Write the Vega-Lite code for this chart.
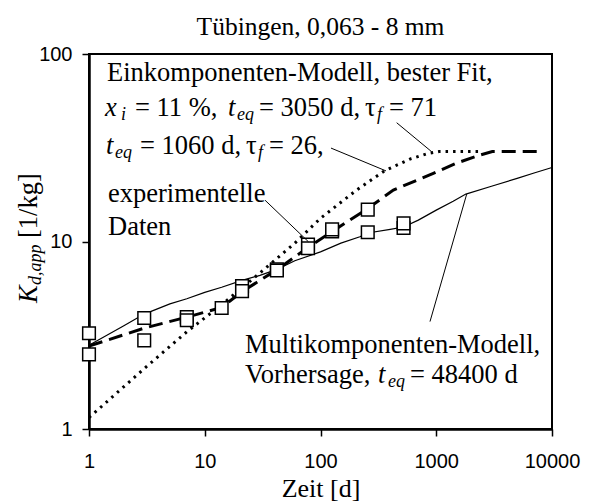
{
  "$schema": "https://vega.github.io/schema/vega-lite/v6.json",
  "width": 463,
  "height": 375,
  "autosize": {"type": "none"},
  "padding": {"left": 89, "top": 54, "right": 39, "bottom": 73},
  "background": "white",
  "title": {"text": "Tübingen, 0,063 - 8  mm", "font": "Liberation Serif", "fontSize": 25.5, "fontWeight": "normal", "color": "black", "anchor": "middle", "frame": "group", "baseline": "alphabetic", "offset": -16},
  "config": {
    "view": {"stroke": "black", "strokeWidth": 2},
    "axis": {"domainColor": "black", "domainWidth": 2.5, "tickColor": "black", "tickSize": 7, "tickWidth": 1.5, "labelFont": "Liberation Sans", "labelFontSize": 20, "labelColor": "black", "grid": false, "labelFlush": false, "labelOverlap": false, "labelBound": false, "titleFont": "Liberation Serif", "titleFontSize": 26, "titleFontWeight": "normal", "titleColor": "black"}
  },
  "datasets": {
    "multi": [
      {"x": 1, "y": 2.8}, {"x": 2, "y": 3.55}, {"x": 3, "y": 4.1}, {"x": 5, "y": 4.65}, {"x": 7, "y": 4.95},
      {"x": 10, "y": 5.35}, {"x": 14, "y": 5.7}, {"x": 21, "y": 6.2}, {"x": 30, "y": 6.6}, {"x": 42, "y": 7.1},
      {"x": 60, "y": 7.9}, {"x": 100, "y": 8.8}, {"x": 150, "y": 9.8}, {"x": 219, "y": 10.6}, {"x": 256, "y": 11.1},
      {"x": 400, "y": 11.6}, {"x": 522, "y": 11.95}, {"x": 700, "y": 13.0}, {"x": 1000, "y": 14.7}, {"x": 1400, "y": 16.4},
      {"x": 1803, "y": 17.9}, {"x": 3000, "y": 19.7}, {"x": 5000, "y": 21.7}, {"x": 7000, "y": 23.2}, {"x": 10000, "y": 24.8}
    ],
    "fit3050": [
      {"x": 1, "y": 2.77}, {"x": 3, "y": 3.45}, {"x": 7, "y": 3.95}, {"x": 14, "y": 4.45}, {"x": 21, "y": 5.4},
      {"x": 42, "y": 7.07}, {"x": 78, "y": 9.3}, {"x": 126, "y": 11.3}, {"x": 256, "y": 15.0}, {"x": 426, "y": 18.8},
      {"x": 943, "y": 23.1}, {"x": 1500, "y": 26.2}, {"x": 2388, "y": 28.9}, {"x": 3050, "y": 30.2}, {"x": 7500, "y": 30.2}
    ],
    "fit1060": [
      {"x": 1, "y": 1.15}, {"x": 3, "y": 2.1}, {"x": 7, "y": 3.3}, {"x": 14, "y": 4.6}, {"x": 30, "y": 6.8},
      {"x": 60, "y": 9.8}, {"x": 100, "y": 13.3}, {"x": 205, "y": 18.8}, {"x": 356, "y": 23.8}, {"x": 600, "y": 27.6},
      {"x": 854, "y": 29.5}, {"x": 1060, "y": 30.2}, {"x": 2300, "y": 30.2}
    ],
    "exp": [
      {"x": 1, "y": 3.24}, {"x": 1, "y": 2.5}, {"x": 3, "y": 3.91}, {"x": 3, "y": 2.97}, {"x": 7, "y": 3.95},
      {"x": 7, "y": 3.8}, {"x": 14, "y": 4.42}, {"x": 21, "y": 5.78}, {"x": 21, "y": 5.44}, {"x": 42, "y": 7.1},
      {"x": 42, "y": 7.0}, {"x": 78, "y": 9.64}, {"x": 78, "y": 9.2}, {"x": 126, "y": 11.3}, {"x": 126, "y": 11.6},
      {"x": 256, "y": 11.2}, {"x": 256, "y": 14.8}, {"x": 522, "y": 11.8}, {"x": 522, "y": 12.5}
    ],
    "leaders": [
      {"x": 455, "y": 43.0, "x2": 914, "y2": 30.1},
      {"x": 123.2, "y": 31.5, "x2": 368, "y2": 23.8},
      {"x": 33.2, "y": 16.6, "x2": 78.5, "y2": 9.98},
      {"x": 883, "y": 3.74, "x2": 1833, "y2": 17.9}
    ],
    "txtRegular": [
      {"x": 1.431, "y": 71.8, "t": "Einkomponenten-Modell,  bester Fit,"},
      {"x": 2.497, "y": 46.7, "t": "= 11 %,"},
      {"x": 29.42, "y": 46.7, "t": "= 3050 d,"},
      {"x": 242.3, "y": 46.7, "t": "τ"},
      {"x": 390.7, "y": 46.7, "t": "= 71"},
      {"x": 2.758, "y": 29.3, "t": "= 1060 d,"},
      {"x": 22.72, "y": 29.3, "t": "τ"},
      {"x": 35.92, "y": 29.3, "t": "= 26,"},
      {"x": 1.459, "y": 16.2, "t": "experimentelle"},
      {"x": 1.459, "y": 10.83, "t": "Daten"},
      {"x": 22.27, "y": 2.54, "t": "Multikomponenten-Modell,"},
      {"x": 22.27, "y": 1.76, "t": "Vorhersage,"},
      {"x": 593.3, "y": 1.76, "t": "= 48400 d"}
    ],
    "txtItalic": [
      {"x": 1.375, "y": 46.7, "t": "x"},
      {"x": 15.88, "y": 46.7, "t": "t"},
      {"x": 1.403, "y": 29.3, "t": "t"},
      {"x": 313.9, "y": 1.76, "t": "t"}
    ],
    "txtSub": [
      {"x": 1.89, "y": 46.7, "t": "i"},
      {"x": 18.99, "y": 46.7, "t": "eq"},
      {"x": 307.6, "y": 46.7, "t": "f"},
      {"x": 1.677, "y": 29.3, "t": "eq"},
      {"x": 28.84, "y": 29.3, "t": "f"},
      {"x": 383.1, "y": 1.76, "t": "eq"}
    ],
    "ytitleK": [{"x": 1, "y": 4.7, "t": "K"}],
    "ytitleSub": [{"x": 1, "y": 5.86, "t": "d,app"}],
    "ytitleUnit": [{"x": 1, "y": 10.44, "t": "[1/kg]"}]
  },
  "encoding": {
    "x": {"field": "x", "type": "quantitative", "scale": {"type": "log", "domain": [1, 10000]}, "axis": {"values": [1, 10, 100, 1000, 10000], "format": "d", "labelPadding": 15, "title": "Zeit [d]", "titlePadding": 4}},
    "y": {"field": "y", "type": "quantitative", "scale": {"type": "log", "domain": [1, 100]}, "axis": {"values": [1, 10, 100], "format": "d", "labelPadding": 10, "title": null}}
  },
  "layer": [
    {"data": {"name": "multi"}, "mark": {"type": "line", "color": "black", "strokeWidth": 1.2}},
    {"data": {"name": "fit1060"}, "mark": {"type": "line", "color": "black", "strokeWidth": 3, "strokeDash": [2.5, 5], "strokeCap": "butt"}},
    {"data": {"name": "fit3050"}, "mark": {"type": "line", "color": "black", "strokeWidth": 3, "strokeDash": [14, 7], "strokeCap": "butt"}},
    {"data": {"name": "exp"}, "mark": {"type": "point", "shape": "square", "size": 160, "filled": true, "fill": "white", "stroke": "black", "strokeWidth": 1.5, "opacity": 1}},
    {"data": {"name": "leaders"}, "mark": {"type": "rule", "color": "black", "strokeWidth": 1}, "encoding": {"x2": {"field": "x2"}, "y2": {"field": "y2"}}},
    {"data": {"name": "txtRegular"}, "mark": {"type": "text", "align": "left", "baseline": "alphabetic", "font": "Liberation Serif", "fontSize": 26.5, "color": "black"}, "encoding": {"text": {"field": "t"}}},
    {"data": {"name": "txtItalic"}, "mark": {"type": "text", "align": "left", "baseline": "alphabetic", "font": "Liberation Serif", "fontStyle": "italic", "fontSize": 26.5, "color": "black"}, "encoding": {"text": {"field": "t"}}},
    {"data": {"name": "txtSub"}, "mark": {"type": "text", "align": "left", "baseline": "alphabetic", "font": "Liberation Serif", "fontStyle": "italic", "fontSize": 18, "dy": 4, "color": "black"}, "encoding": {"text": {"field": "t"}}},
    {"data": {"name": "ytitleK"}, "mark": {"type": "text", "align": "left", "baseline": "alphabetic", "angle": 270, "dy": -52, "font": "Liberation Serif", "fontStyle": "italic", "fontSize": 26.5, "color": "black"}, "encoding": {"text": {"field": "t"}}},
    {"data": {"name": "ytitleSub"}, "mark": {"type": "text", "align": "left", "baseline": "alphabetic", "angle": 270, "dy": -48, "font": "Liberation Serif", "fontStyle": "italic", "fontSize": 18, "color": "black"}, "encoding": {"text": {"field": "t"}}},
    {"data": {"name": "ytitleUnit"}, "mark": {"type": "text", "align": "left", "baseline": "alphabetic", "angle": 270, "dy": -52, "font": "Liberation Serif", "fontSize": 26.5, "color": "black"}, "encoding": {"text": {"field": "t"}}}
  ]
}
